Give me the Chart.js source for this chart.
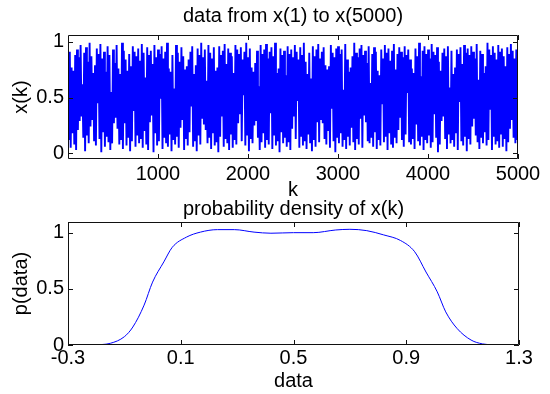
<!DOCTYPE html>
<html>
<head>
<meta charset="utf-8">
<script src="https://cdn.jsdelivr.net/npm/chart.js@4/dist/chart.umd.min.js"></script>
<style>
  body { margin: 0; background: #fff; width: 550px; height: 394px; overflow: hidden; position: relative; }
  canvas { position: absolute; left: 0; }
  #top-chart { top: 0; }
  #density-chart { top: 195px; }
</style>
</head>
<body>
<canvas id="top-chart" width="550" height="200"></canvas>
<canvas id="density-chart" width="550" height="199"></canvas>
<script>
// samples of x(k), one every kStep
const kStart = 1;
const kStep = 10;
const xkValues = [
  .84,.12,.91,.05,.77,.18,.74,.08,.88,.03,.93,.21,.86,.29,.97,.33,.62,.14,.90,.02,
  .95,.16,.82,.09,.99,.24,.87,.30,.72,.11,.79,.07,.94,.45,.89,.13,.98,.01,.85,.19,
  .91,.06,.73,.15,.96,.10,.88,.03,.55,.09,.93,.27,.81,.32,.97,.22,.76,.08,.71,.12,
  .99,.04,.92,.27,.84,.07,.74,.14,.89,.02,.78,.11,.96,.38,.91,.06,.87,.16,.94,.09,
  .83,.13,.98,.05,.90,.20,.68,.08,.95,.03,.88,.28,.92,.34,.80,.01,.97,.18,.86,.07,
  .93,.11,.89,.49,.96,.04,.85,.14,.91,.09,.99,.06,.76,.17,.73,.02,.88,.12,.58,.08,
  .97,.15,.90,.05,.82,.23,.95,.30,.87,.03,.75,.13,.78,.07,.84,.19,.91,.42,.96,.06,
  .71,.11,.79,.02,.94,.16,.88,.08,.99,.31,.86,.26,.93,.21,.65,.09,.97,.14,.90,.04,
  .85,.18,.95,.07,.74,.10,.77,.01,.96,.15,.88,.33,.92,.06,.98,.13,.80,.09,.94,.03,
  .90,.17,.87,.05,.72,.12,.97,.08,.93,.27,.89,.35,.95,.11,.84,.52,.91,.07,.99,.16,
  .86,.02,.94,.13,.77,.09,.73,.25,.81,.29,.92,.14,.60,.03,.97,.10,.89,.18,.93,.05,
  .98,.12,.85,.08,.91,.36,.95,.04,.87,.16,.99,.07,.72,.11,.76,.01,.94,.19,.88,.09,
  .92,.14,.70,.06,.96,.10,.89,.03,.93,.22,.86,.33,.97,.13,.91,.47,.84,.05,.95,.15,
  .88,.07,.99,.11,.82,.04,.71,.17,.90,.09,.67,.02,.96,.12,.87,.06,.93,.28,.98,.10,
  .85,.30,.91,.27,.95,.13,.79,.08,.75,.20,.78,.05,.97,.40,.90,.11,.86,.01,.94,.14,
  .96,.09,.89,.18,.93,.06,.57,.12,.98,.04,.84,.15,.73,.07,.77,.23,.87,.10,.99,.03,
  .90,.13,.86,.08,.94,.31,.97,.05,.88,.34,.92,.28,.81,.11,.96,.09,.63,.14,.89,.06,
  .95,.19,.91,.04,.74,.12,.70,.07,.93,.44,.85,.10,.97,.15,.90,.03,.94,.18,.83,.08,
  .92,.05,.98,.14,.75,.09,.89,.21,.95,.32,.91,.12,.86,.06,.96,.17,.88,.54,.93,.10,
  .84,.08,.76,.13,.72,.04,.94,.26,.87,.11,.99,.07,.69,.15,.92,.03,.96,.12,.89,.09,
  .93,.16,.85,.05,.98,.10,.91,.35,.88,.14,.95,.01,.82,.08,.74,.29,.90,.33,.94,.13,
  .87,.04,.96,.17,.59,.09,.92,.12,.71,.06,.77,.18,.93,.03,.89,.46,.95,.11,.80,.07,
  .97,.15,.90,.02,.94,.13,.88,.08,.96,.24,.91,.31,.85,.16,.98,.10,.66,.04,.92,.14,
  .89,.09,.72,.19,.78,.07,.99,.12,.93,.39,.88,.03,.96,.15,.90,.08,.84,.11,.97,.05,
  .91,.17,.94,.06,.87,.13,.78,.02,.95,.10,.89,.22,.98,.30,.92,.14,.85,.09,.93,.12
];
const topXTicks = [1000, 2000, 3000, 4000, 5000];
const topYTicks = [0, 0.5, 1];

// estimated density curve
const densX = [-0.21,-0.15,-0.10,-0.07,-0.03,0.00,0.04,0.07,0.12,0.17,0.23,0.29,0.36,0.42,0.50,0.57,0.65,0.70,0.76,0.82,0.88,0.93,0.97,1.01,1.04,1.08,1.13,1.17,1.21];
const densY = [0,0.015,0.074,0.16,0.355,0.56,0.74,0.87,0.96,1.005,1.027,1.027,1.005,0.995,1.0,1.0,1.024,1.03,1.018,0.98,0.93,0.83,0.65,0.473,0.295,0.148,0.044,0.01,0];
const densXTicks = [-0.3, 0.1, 0.5, 0.9, 1.3];
const densYTicks = [0, 0.5, 1];

Chart.defaults.font.family = "Arial, 'Liberation Sans', Helvetica, sans-serif";
Chart.defaults.font.size = 20;
Chart.defaults.color = '#000';

// matlab style box with ticks pointing inwards
const frameTicks = {
  id: 'frameTicks',
  afterDraw(chart) {
    const { ctx, chartArea: a, scales: { x, y } } = chart;
    ctx.save();
    ctx.strokeStyle = '#111';
    ctx.lineWidth = 1;
    ctx.beginPath();
    x.ticks.forEach(t => {
      const px = Math.round(x.getPixelForValue(t.value)) + 0.5;
      ctx.moveTo(px, a.bottom); ctx.lineTo(px, a.bottom - 5);
      ctx.moveTo(px, a.top); ctx.lineTo(px, a.top + 5);
    });
    y.ticks.forEach(t => {
      const py = Math.round(y.getPixelForValue(t.value)) + 0.5;
      ctx.moveTo(a.left, py); ctx.lineTo(a.left + 5, py);
      ctx.moveTo(a.right, py); ctx.lineTo(a.right - 5, py);
    });
    ctx.rect(a.left + 0.5, a.top + 0.5, a.right - a.left - 1, a.bottom - a.top - 1);
    ctx.stroke();
    ctx.restore();
  }
};

function fixedTicks(values) {
  return scale => { scale.ticks = values.map(v => ({ value: v })); };
}

function axisOpts(extra) {
  return Object.assign({
    type: 'linear',
    grid: { display: false, drawTicks: false },
    border: { display: false }
  }, extra);
}

new Chart(document.getElementById('top-chart'), {
  type: 'line',
  data: {
    datasets: [{
      data: xkValues.map((v, i) => ({ x: kStart + i * kStep, y: v })),
      borderColor: '#0000ff',
      borderWidth: 1.9,
      borderJoinStyle: 'bevel',
      pointRadius: 0,
      tension: 0
    }]
  },
  options: {
    responsive: false,
    animation: false,
    events: [],
    layout: { padding: { left: 0, right: 32, top: 0, bottom: 0 } },
    plugins: {
      legend: { display: false },
      tooltip: { enabled: false },
      title: {
        display: true,
        text: 'data from x(1) to x(5000)',
        fullSize: false,
        font: { size: 20, weight: 'normal' },
        padding: { top: 4, bottom: 7 }
      }
    },
    scales: {
      x: axisOpts({
        min: 1, max: 5000,
        afterBuildTicks: fixedTicks(topXTicks),
        afterFit: s => { s.height = 41; },
        ticks: { padding: 3, maxRotation: 0, autoSkip: false, callback: v => String(v) },
        title: { display: true, text: 'k', font: { size: 20, lineHeight: 1 }, padding: { top: 0, bottom: 0 } }
      }),
      y: axisOpts({
        min: -0.05, max: 1.06,
        afterBuildTicks: fixedTicks(topYTicks),
        afterFit: s => { s.width = 68; },
        ticks: { padding: 4, autoSkip: false, callback: v => String(v) },
        title: { display: true, text: 'x(k)', font: { size: 20 }, padding: { top: 9, bottom: 0 } }
      })
    }
  },
  plugins: [frameTicks]
});

new Chart(document.getElementById('density-chart'), {
  type: 'line',
  data: {
    datasets: [{
      data: densX.map((v, i) => ({ x: v, y: densY[i] })),
      borderColor: '#0000ff',
      borderWidth: 1,
      pointRadius: 0,
      cubicInterpolationMode: 'monotone'
    }]
  },
  options: {
    responsive: false,
    animation: false,
    events: [],
    layout: { padding: { left: 0, right: 31, top: 0, bottom: 0 } },
    plugins: {
      legend: { display: false },
      tooltip: { enabled: false },
      title: {
        display: true,
        text: 'probability density of x(k)',
        fullSize: false,
        font: { size: 20, weight: 'normal', lineHeight: 1 },
        padding: { top: 4, bottom: 3 }
      }
    },
    scales: {
      x: axisOpts({
        min: -0.3, max: 1.3,
        afterBuildTicks: fixedTicks(densXTicks),
        afterFit: s => { s.height = 49; },
        ticks: { padding: 1, maxRotation: 0, autoSkip: false, callback: v => String(v) },
        title: { display: true, text: 'data', font: { size: 20 }, padding: { top: 0, bottom: 1 } }
      }),
      y: axisOpts({
        min: 0, max: 1.095,
        afterBuildTicks: fixedTicks(densYTicks),
        afterFit: s => { s.width = 68; },
        ticks: { padding: 4, autoSkip: false, callback: v => String(v) },
        title: { display: true, text: 'p(data)', font: { size: 20 }, padding: { top: 9, bottom: 0 } }
      })
    }
  },
  plugins: [frameTicks]
});
</script>
</body>
</html>
